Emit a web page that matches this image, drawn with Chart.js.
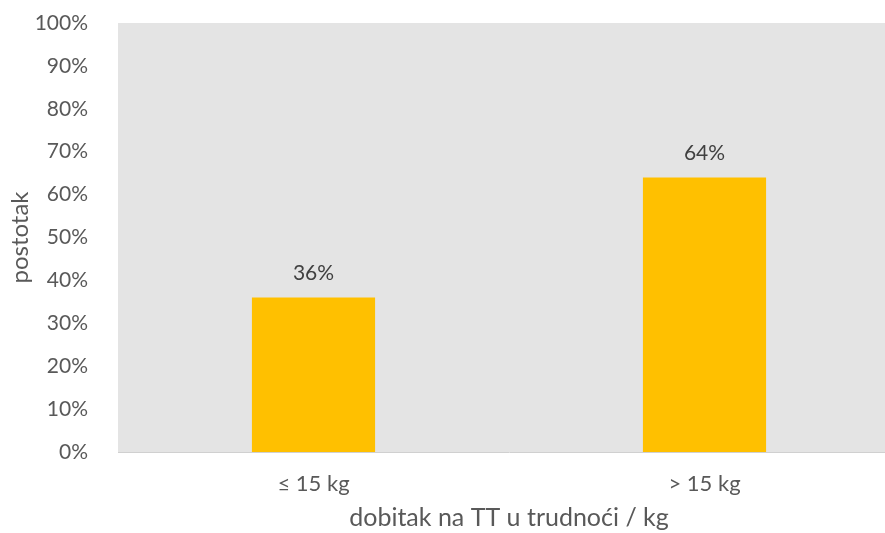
<!DOCTYPE html>
<html>
<head>
<meta charset="utf-8">
<script src="https://cdn.jsdelivr.net/npm/chart.js@4"></script>
<style>
    html, body { margin: 0; padding: 0; background: #fff; overflow: hidden; }
    #wrap { width: 900px; height: 533px; }
</style>
</head>
<body>
<div id="wrap"><canvas id="weightChart"></canvas></div>
<script>
// Chart data
const categories = ['≤ 15 kg', '> 15 kg'];
const percentages = [36, 64];
const yTicks = [0, 10, 20, 30, 40, 50, 60, 70, 80, 90, 100];

const FONT = 'Lato, "Open Sans", sans-serif';

/**
 * Grey plot background + value labels above bars
 */
const plotDecor = {
    id: 'plotDecor',
    beforeDraw(chart) {
        const a = chart.chartArea;
        const ctx = chart.ctx;
        ctx.save();
        ctx.fillStyle = '#e4e4e4';
        ctx.fillRect(a.left, a.top, a.right - a.left, a.bottom - a.top);
        ctx.restore();
    },
    afterDatasetsDraw(chart) {
        const ctx = chart.ctx;
        const meta = chart.getDatasetMeta(0);
        ctx.save();
        ctx.font = '21px ' + FONT;
        ctx.fillStyle = '#404040';
        ctx.textAlign = 'center';
        ctx.textBaseline = 'bottom';
        meta.data.forEach((bar, i) => {
            ctx.fillText(percentages[i] + '%', bar.x, bar.y - 14);
        });
        ctx.restore();
    }
};

const ctx = document.getElementById('weightChart').getContext('2d');

new Chart(ctx, {
    type: 'bar',
    data: {
        labels: categories,
        datasets: [{
            data: percentages,
            backgroundColor: '#ffc000',
            borderWidth: 0,
            barPercentage: 0.315,
            categoryPercentage: 1
        }]
    },
    options: {
        responsive: true,
        maintainAspectRatio: false,
        animation: false,
        layout: { padding: { top: 23, right: 0, bottom: 0, left: 0 } },
        plugins: {
            legend: { display: false },
            tooltip: { enabled: false }
        },
        scales: {
            x: {
                grid: { display: false },
                border: { display: true, color: '#d0d0d0', width: 1 },
                ticks: {
                    color: '#595959',
                    font: { family: FONT, size: 22 },
                    padding: 11
                },
                title: {
                    display: true,
                    text: 'dobitak na TT u trudnoći / kg',
                    color: '#595959',
                    font: { family: FONT, size: 25 },
                    padding: { top: 11, bottom: 0 }
                },
                afterFit(scale) { scale.height = 81; }
            },
            y: {
                min: 0,
                max: 100,
                afterBuildTicks(scale) {
                    scale.ticks = yTicks.map(v => ({ value: v }));
                },
                grid: { display: false },
                border: { display: false },
                ticks: {
                    color: '#595959',
                    font: { family: FONT, size: 21 },
                    padding: 22,
                    callback: value => value + '%'
                },
                title: {
                    display: true,
                    text: 'postotak',
                    color: '#595959',
                    font: { family: FONT, size: 24 },
                    padding: { top: 6, bottom: 0 }
                },
                afterFit(scale) {
                    scale.width = 118;
                    scale.paddingTop = 0;
                    scale.paddingBottom = 0;
                }
            }
        }
    },
    plugins: [plotDecor]
});
</script>
</body>
</html>
